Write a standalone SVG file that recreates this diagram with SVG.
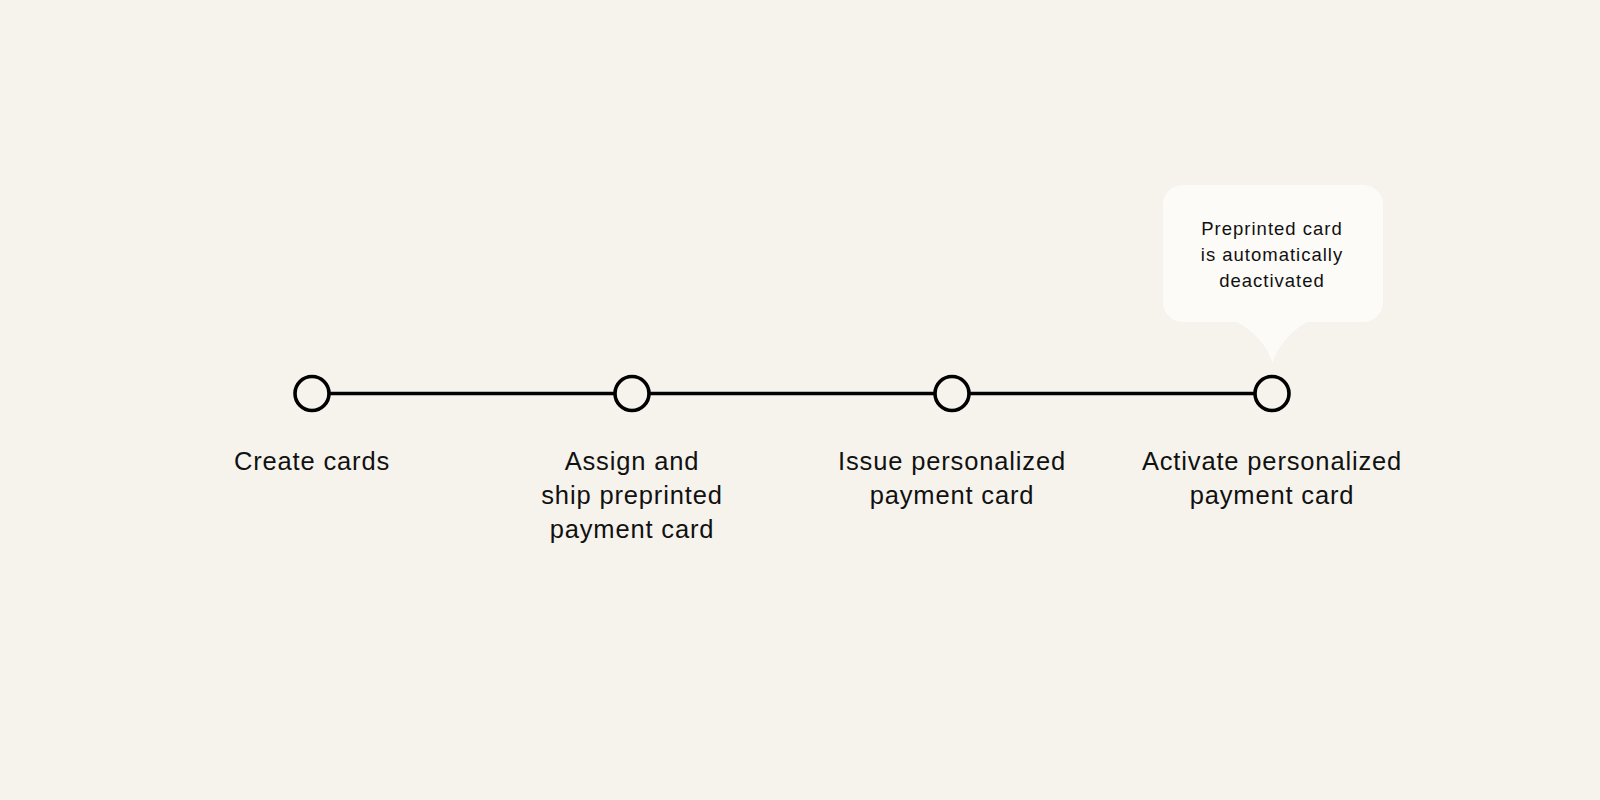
<svg xmlns="http://www.w3.org/2000/svg" width="1600" height="800" viewBox="0 0 1600 800">
  <style>
    .bg { fill: #f6f3ec; }
    .node circle { fill: #f6f3ec; stroke: #000; stroke-width: 3.6; }
    .connectors line { stroke: #000; stroke-width: 3.6; }
    .label { font-family: "Liberation Sans", Arial, sans-serif; font-size: 25.5px; letter-spacing: 0.85px; fill: #111; text-anchor: middle; }
    .bubble-shape { fill: #fcfbf8; }
    .bubble-text { font-family: "Liberation Sans", Arial, sans-serif; font-size: 18.5px; letter-spacing: 1px; fill: #111; text-anchor: middle; }
  </style>
  <rect class="bg" x="0" y="0" width="1600" height="800"/>

  <g id="connectors" class="connectors">
    <line x1="329" y1="393.5" x2="615" y2="393.5"/>
    <line x1="649" y1="393.5" x2="935" y2="393.5"/>
    <line x1="969" y1="393.5" x2="1255" y2="393.5"/>
  </g>

  <g id="callout">
    <path class="bubble-shape" d="M1183,185 H1363 A20,20 0 0 1 1383,205 V302 A20,20 0 0 1 1363,322 H1307 Q1280,338 1272.5,363 Q1265,338 1237,322 H1183 A20,20 0 0 1 1163,302 V205 A20,20 0 0 1 1183,185 Z"/>
    <text class="bubble-text" x="1272" y="234.5">Preprinted card</text>
    <text class="bubble-text" x="1272" y="260.5">is automatically</text>
    <text class="bubble-text" x="1272" y="286.5">deactivated</text>
  </g>

  <g id="node-create" class="node">
    <circle cx="312" cy="393.5" r="17"/>
    <text class="label" x="312" y="470">Create cards</text>
  </g>

  <g id="node-assign" class="node">
    <circle cx="632" cy="393.5" r="17"/>
    <text class="label" x="632" y="470">Assign and</text>
    <text class="label" x="632" y="504">ship preprinted</text>
    <text class="label" x="632" y="538">payment card</text>
  </g>

  <g id="node-issue" class="node">
    <circle cx="952" cy="393.5" r="17"/>
    <text class="label" x="952" y="470">Issue personalized</text>
    <text class="label" x="952" y="504">payment card</text>
  </g>

  <g id="node-activate" class="node">
    <circle cx="1272" cy="393.5" r="17"/>
    <text class="label" x="1272" y="470">Activate personalized</text>
    <text class="label" x="1272" y="504">payment card</text>
  </g>
</svg>
